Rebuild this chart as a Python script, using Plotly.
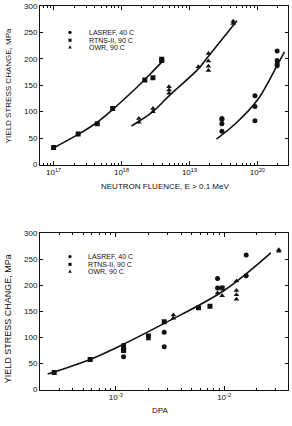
import plotly.graph_objects as go
from plotly.subplots import make_subplots

# ---------------- data: top panel (neutron fluence) ----------------
las_flu = [3e19, 3e19, 3e19, 3e19, 9.2e19, 9.2e19, 9.2e19, 1.95e20, 1.95e20, 1.95e20, 1.95e20]
las_flu_y = [63, 77, 85, 87, 130, 110, 83, 215, 197, 190, 187]
rtns_flu = [1e17, 2.3e17, 4.4e17, 7.4e17, 2.2e18, 2.9e18, 3.9e18, 3.9e18]
rtns_flu_y = [32, 58, 77, 106, 160, 164, 197, 199]
owr_flu = [1.8e18, 1.8e18, 2.9e18, 2.9e18, 5e18, 5e18, 5e18, 1.35e19,
           1.9e19, 1.9e19, 1.9e19, 1.9e19, 4.4e19, 4.4e19]
owr_flu_y = [80, 87, 100, 106, 135, 141, 147, 185, 210, 196, 186, 178, 267, 271]

fit1_x = [9.5e16, 2.3e17, 4.4e17, 7.4e17, 1.5e18, 2.5e18, 4.2e18]
fit1_y = [30, 57, 80, 104, 140, 168, 198]
fit2_x = [1.4e18, 2.9e18, 5e18, 1.35e19, 1.9e19, 5e19]
fit2_y = [73, 100, 130, 181, 205, 272]
fit3_x = [2.5e19, 5e19, 1e20, 2e20, 2.5e20]
fit3_y = [48, 80, 122, 190, 213]

# ---------------- data: bottom panel (DPA) ----------------
las_dpa = [1.18e-3, 1.18e-3, 2.8e-3, 2.8e-3, 8.7e-3, 8.7e-3, 1.6e-2, 1.6e-2]
las_dpa_y = [85, 63, 110, 82, 213, 195, 258, 218]
rtns_dpa = [2.7e-4, 5.8e-4, 1.18e-3, 1.18e-3, 2e-3, 2.8e-3, 5.8e-3, 7.4e-3, 9.6e-3]
rtns_dpa_y = [33, 58, 78, 75, 103, 130, 157, 160, 195]
owr_dpa = [1.18e-3, 1.18e-3, 2e-3, 3.4e-3, 3.4e-3, 8.7e-3, 9.6e-3,
           1.3e-2, 1.3e-2, 1.3e-2, 1.3e-2, 3.2e-2, 3.2e-2]
owr_dpa_y = [80, 83, 97, 143, 137, 185, 180, 208, 190, 182, 173, 268, 265]

fit_dpa_x = [2.35e-4, 5.8e-4, 1e-3, 2.8e-3, 1e-2, 2.7e-2]
fit_dpa_y = [30, 58, 80, 127, 190, 262]

series_names = ["LASREF, 40 C", "RTNS-II, 90 C", "OWR, 90 C"]
y_ticks = [0, 50, 100, 150, 200, 250, 300]

FONT = "Liberation Sans, Arial, sans-serif"
INK = "#111"
W, H = 292, 426
L, R = 40, 4

fig = make_subplots(rows=2, cols=1)

sym = ["circle", "square", "triangle-up"]
msz = [5, 5, 5]

top_sets = [(las_flu, las_flu_y), (rtns_flu, rtns_flu_y), (owr_flu, owr_flu_y)]
bot_sets = [(las_dpa, las_dpa_y), (rtns_dpa, rtns_dpa_y), (owr_dpa, owr_dpa_y)]

for i, (xs, ys) in enumerate(top_sets):
    fig.add_trace(go.Scatter(x=xs, y=ys, mode="markers", name=series_names[i],
                             marker=dict(symbol=sym[i], size=msz[i], color=INK),
                             showlegend=False), row=1, col=1)
for fx, fy in [(fit1_x, fit1_y), (fit2_x, fit2_y), (fit3_x, fit3_y)]:
    fig.add_trace(go.Scatter(x=fx, y=fy, mode="lines", line=dict(color=INK, width=1.6, shape="spline"),
                             showlegend=False, hoverinfo="skip"), row=1, col=1)

for i, (xs, ys) in enumerate(bot_sets):
    fig.add_trace(go.Scatter(x=xs, y=ys, mode="markers", name=series_names[i],
                             marker=dict(symbol=sym[i], size=msz[i], color=INK),
                             showlegend=False), row=2, col=1)
fig.add_trace(go.Scatter(x=fit_dpa_x, y=fit_dpa_y, mode="lines",
                         line=dict(color=INK, width=1.6, shape="spline"),
                         showlegend=False, hoverinfo="skip"), row=2, col=1)

def minor_vals(lo, hi):
    out = []
    for d in range(lo, hi + 1):
        for m in range(2, 10):
            out.append(m * 10.0 ** d)
    return out

axis_common = dict(showline=True, linecolor=INK, linewidth=1, mirror="ticks",
                   ticks="inside", tickcolor=INK, showgrid=False, zeroline=False,
                   tickfont=dict(family=FONT, size=8, color=INK))

fig.update_xaxes(type="log", range=[16.8, 20.45],
                 tickvals=[1e17, 1e18, 1e19, 1e20],
                 ticktext=["10<sup>17</sup>", "10<sup>18</sup>", "10<sup>19</sup>", "10<sup>20</sup>"],
                 ticklen=4,
                 minor=dict(tickvals=minor_vals(16, 20), ticks="inside", ticklen=2, tickcolor=INK),
                 domain=[0.0, 1.0], **axis_common, row=1, col=1)
fig.update_xaxes(type="log", range=[-3.70, -1.41],
                 tickvals=[1e-3, 1e-2],
                 ticktext=["10<sup>-3</sup>", "10<sup>-2</sup>"],
                 ticklen=4,
                 minor=dict(tickvals=minor_vals(-4, -2), ticks="inside", ticklen=2, tickcolor=INK),
                 domain=[0.0, 1.0], **axis_common, row=2, col=1)
fig.update_yaxes(range=[0, 300], tickvals=y_ticks, ticklen=3,
                 domain=[1 - 164 / 426, 1 - 2 / 426], **axis_common, row=1, col=1)
fig.update_yaxes(range=[0, 300], tickvals=y_ticks, ticklen=3,
                 domain=[1 - 394 / 426, 1 - 234 / 426], **axis_common, row=2, col=1)

def px(x):
    return (x - L) / (W - L - R)

def py(y):
    return 1 - y / H

ann = [
    dict(text="NEUTRON FLUENCE, E > 0.1 MeV", x=165, y=186, size=8),
    dict(text="DPA", x=160, y=415, size=8),
    dict(text="YIELD STRESS CHANGE, MPa", x=8, y=84, textangle=-90, size=8),
    dict(text="YIELD STRESS CHANGE, MPa", x=8, y=322, textangle=-90, size=9),
]
for a in ann:
    fig.add_annotation(text=a["text"], xref="paper", yref="paper",
                       x=px(a["x"]), y=py(a["y"]),
                       showarrow=False, textangle=a.get("textangle", 0),
                       xanchor="center", yanchor="middle",
                       font=dict(family=FONT, size=a["size"], color=INK))

# hand-drawn legend keys (tight row spacing as in the original)
def legend_block(mx, tx, rows):
    for i, ry in enumerate(rows):
        fig.add_annotation(text=series_names[i], xref="paper", yref="paper",
                           x=px(tx), y=py(ry), showarrow=False,
                           xanchor="left", yanchor="middle",
                           font=dict(family=FONT, size=7, color=INK))
        if i == 0:
            fig.add_shape(type="circle", xref="paper", yref="paper",
                          x0=px(mx - 1.7), x1=px(mx + 1.7), y0=py(ry + 1.7), y1=py(ry - 1.7),
                          fillcolor=INK, line=dict(width=0))
        elif i == 1:
            fig.add_shape(type="rect", xref="paper", yref="paper",
                          x0=px(mx - 1.6), x1=px(mx + 1.6), y0=py(ry + 1.6), y1=py(ry - 1.6),
                          fillcolor=INK, line=dict(width=0))
        else:
            fig.add_shape(type="path", xref="paper", yref="paper",
                          path="M {} {} L {} {} L {} {} Z".format(
                              px(mx - 1.8), py(ry + 1.5), px(mx + 1.8), py(ry + 1.5),
                              px(mx), py(ry - 1.8)),
                          fillcolor=INK, line=dict(width=0))

legend_block(70, 87, [29, 37, 44])
legend_block(70, 86, [258, 266, 273])

fig.update_layout(
    width=W, height=H,
    margin=dict(l=L, r=R, t=0, b=0),
    paper_bgcolor="white", plot_bgcolor="white",
    showlegend=False,
)

fig.write_html("out.html")
